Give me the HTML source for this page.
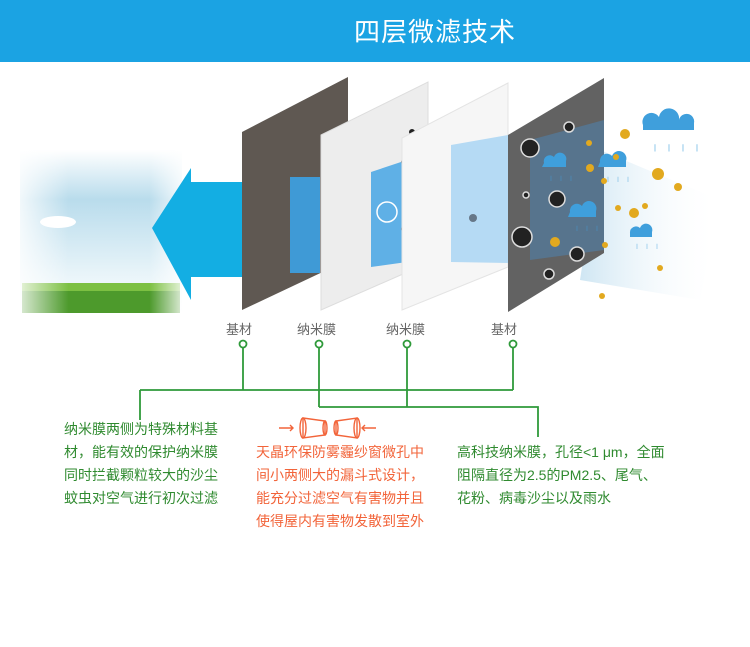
<!DOCTYPE html>
<html><head><meta charset="utf-8"><style>
body{margin:0;width:750px;height:647px;background:#fff;position:relative;overflow:hidden;font-family:"Liberation Sans","Noto Sans CJK SC",sans-serif}
.hdr{position:absolute;left:0;top:0;width:750px;height:62px;background:#1ba3e3}
.ttl{position:absolute;left:340px;top:12px;width:190px;text-align:center;color:#fff;font-size:26px;letter-spacing:1px}
.t{position:absolute;font-size:14px;line-height:23px;color:#2f8a2f}
.o{color:#f2643a}
.lb{position:absolute;top:319px;font-size:13px;color:#666}
</style></head><body>
<div class="hdr"></div><div class="ttl">四层微滤技术</div>
<svg width="750" height="647" style="position:absolute;left:0;top:0">
<defs>
<linearGradient id="sky" x1="0" y1="0" x2="0" y2="1"><stop offset="0" stop-color="#fff"/><stop offset=".3" stop-color="#b9dcec"/><stop offset=".75" stop-color="#e8f4f9"/><stop offset="1" stop-color="#fff"/></linearGradient>
<linearGradient id="fade" x1="0" y1="0" x2="1" y2="0"><stop offset="0" stop-color="#fff" stop-opacity=".8"/><stop offset=".3" stop-color="#fff" stop-opacity="0"/><stop offset=".8" stop-color="#fff" stop-opacity="0"/><stop offset="1" stop-color="#fff" stop-opacity=".8"/></linearGradient>
<linearGradient id="wind" x1="0" y1="0" x2="1" y2="0"><stop offset="0" stop-color="#cfe6f3"/><stop offset="1" stop-color="#fff" stop-opacity="0"/></linearGradient>
</defs>
<rect x="20" y="150" width="162" height="165" fill="url(#sky)"/>
<rect x="22" y="283" width="158" height="30" fill="#4d9a2c"/>
<rect x="22" y="283" width="158" height="8" fill="#7cc042"/>
<rect x="20" y="150" width="162" height="165" fill="url(#fade)"/>
<ellipse cx="58" cy="222" rx="18" ry="6" fill="#fff"/>
<polygon points="152,228 191,168 191,182 245,182 245,277 191,277 191,300" fill="#13aee3"/>
<path d="M600,150 L720,200 L700,300 L580,280Z" fill="url(#wind)"/>
<polygon points="242,132 348,77 348,260 242,310" fill="#5f5852"/>
<rect x="290" y="177" width="30" height="96" fill="#3f9ad6"/>
<polygon points="321,135 428,82 428,263 321,310" fill="#ededed" stroke="#ddd"/>
<polygon points="371,172 407,160 407,262 371,267" fill="#5fb0e6"/>
<circle cx="387" cy="212" r="10" fill="none" stroke="#fff" stroke-width="1.5"/>
<circle cx="412" cy="132" r="3" fill="#222"/>
<circle cx="404" cy="162" r="3" fill="#678"/><circle cx="404" cy="229" r="3" fill="#678"/>
<polygon points="402,138 508,83 508,267 402,310" fill="#f6f6f6" stroke="#e4e4e4"/>
<polygon points="451,145 508,135 508,263 451,262" fill="#b5daf4"/>
<circle cx="473" cy="218" r="4" fill="#678"/>
<polygon points="508,135 604,78 604,253 508,312" fill="#626262"/>
<polygon points="530,140 604,120 604,250 530,260" fill="#4c86b8" opacity=".5"/>
<g fill="#222" stroke="#ddd" stroke-width="1.5">
<circle cx="530" cy="148" r="9"/><circle cx="522" cy="237" r="10"/><circle cx="557" cy="199" r="8"/><circle cx="577" cy="254" r="7"/><circle cx="569" cy="127" r="5"/><circle cx="549" cy="274" r="5"/><circle cx="526" cy="195" r="3"/>
</g>
<g fill="#3f9fdc">
<path d="M544,163 a6,6 0 0 1 10,-6 a6,6 0 0 1 12,4 l0,6 h-24z"/><path d="M600,162 a7,7 0 0 1 12,-6 a7,7 0 0 1 14,5 l0,6 h-28z"/><path d="M643,125 a9,9 0 0 1 16,-8 a9,9 0 0 1 20,3 a6,6 0 0 1 15,3 l0,7 h-51z"/><path d="M570,212 a7,7 0 0 1 12,-6 a7,7 0 0 1 14,5 l0,6 h-28z"/><path d="M630,233 a6,6 0 0 1 10,-5 a6,6 0 0 1 12,4 l0,5 h-22z"/>
<g font-size="10" fill="#3f9fdc"><text x="546" y="180">╷╷╷</text><text x="603" y="181">╷╷╷</text><text x="648" y="150" font-size="14">╷╷╷╷</text><text x="572" y="230">╷╷╷</text><text x="632" y="248">╷╷╷</text></g>
</g>
<g fill="#e2a91f">
<circle cx="625" cy="134" r="5"/><circle cx="658" cy="174" r="6"/><circle cx="678" cy="187" r="4"/><circle cx="634" cy="213" r="5"/><circle cx="618" cy="208" r="3"/><circle cx="604" cy="181" r="3"/><circle cx="589" cy="143" r="3"/><circle cx="605" cy="245" r="3"/><circle cx="602" cy="296" r="3"/><circle cx="660" cy="268" r="3"/><circle cx="616" cy="157" r="3"/><circle cx="645" cy="206" r="3"/><circle cx="590" cy="168" r="4"/><circle cx="555" cy="242" r="5"/>
</g>
<g stroke="#2f9a3a" stroke-width="1.8" fill="none">
<circle cx="243" cy="344" r="3.5" fill="#fff"/><circle cx="319" cy="344" r="3.5" fill="#fff"/><circle cx="407" cy="344" r="3.5" fill="#fff"/><circle cx="513" cy="344" r="3.5" fill="#fff"/>
<path d="M243,348V390M319,348V407M407,348V407M513,348V390M140,390H513M140,390V420M319,407H538V437"/>
</g>
<g stroke="#f2643a" stroke-width="1.4" fill="none">
<path d="M279,428h14M290,425l3,3-3,3M362,428h14M365,425l-3,3 3,3"/>
<path d="M303,418l22,3v14l-22,3z"/><ellipse cx="303" cy="428" rx="3" ry="10"/><ellipse cx="325" cy="428" rx="2" ry="7"/>
<path d="M336,421l21,-3v20l-21,-3z"/><ellipse cx="357" cy="428" rx="3" ry="10"/><ellipse cx="336" cy="428" rx="2" ry="7"/>
</g>
</svg>
<div class="lb" style="left:226px">基材</div>
<div class="lb" style="left:297px">纳米膜</div>
<div class="lb" style="left:386px">纳米膜</div>
<div class="lb" style="left:491px">基材</div>
<div class="t" style="left:64px;top:418px">纳米膜两侧为特殊材料基<br>材，能有效的保护纳米膜<br>同时拦截颗粒较大的沙尘<br>蚊虫对空气进行初次过滤</div>
<div class="t o" style="left:256px;top:441px">天晶环保防雾霾纱窗微孔中<br>间小两侧大的漏斗式设计，<br>能充分过滤空气有害物并且<br>使得屋内有害物发散到室外</div>
<div class="t" style="left:457px;top:441px">高科技纳米膜，孔径&lt;1 μm，全面<br>阻隔直径为2.5的PM2.5、尾气、<br>花粉、病毒沙尘以及雨水</div>
</body></html>
